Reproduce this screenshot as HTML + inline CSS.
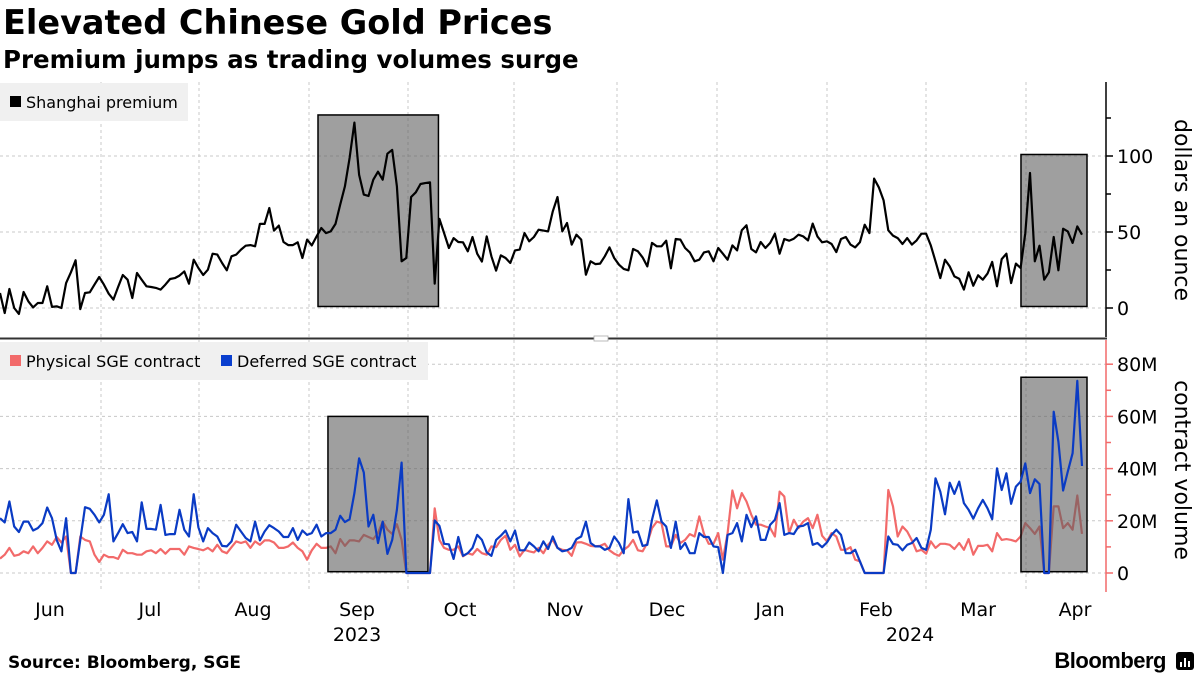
<!DOCTYPE html>
<html><head><meta charset="utf-8"><style>
body{margin:0;background:#fff;width:1200px;height:675px;overflow:hidden;font-family:"Liberation Sans",sans-serif}
svg text{font-family:"DejaVu Sans","Liberation Sans",sans-serif}
</style></head><body>
<svg id="c" width="1200" height="675">
<text x="3" y="34" font-size="33.5" font-weight="bold">Elevated Chinese Gold Prices</text>
<text x="3" y="68" font-size="24.5" font-weight="bold">Premium jumps as trading volumes surge</text>
<g id="grid"></g>
<g id="marks"></g>
<rect x="0" y="83" width="188" height="38" fill="#f0f0f0"/>
<rect x="10" y="96" width="11" height="11" fill="#000"/>
<text x="26" y="108" font-size="16">Shanghai premium</text>
<rect x="0" y="342" width="428" height="38" fill="#f0f0f0"/>
<rect x="10" y="355" width="11" height="11" fill="#f26a6a"/>
<text x="26" y="367" font-size="16">Physical SGE contract</text>
<rect x="221" y="355" width="11" height="11" fill="#0a3fcf"/>
<text x="237" y="367" font-size="16">Deferred SGE contract</text>
<line x1="0" y1="338.5" x2="1107" y2="338.5" stroke="#333" stroke-width="2"/>
<rect x="594" y="336" width="14" height="5" fill="#fff" stroke="#aaa" stroke-width="0.8"/>
<text transform="translate(1175,210) rotate(90)" text-anchor="middle" font-size="22">dollars an ounce</text>
<text transform="translate(1175,470) rotate(90)" text-anchor="middle" font-size="22">contract volume</text>
<text x="8" y="668" font-size="17" font-weight="bold">Source: Bloomberg, SGE</text>
<text x="1166" y="668" text-anchor="end" font-size="22" font-weight="bold" style="font-family:'Liberation Sans',sans-serif;letter-spacing:-0.5px">Bloomberg</text>
<rect x="1176" y="652" width="18" height="18" rx="3" fill="#000"/>
<rect x="1180" y="662" width="2" height="5" fill="#fff"/><rect x="1184" y="658" width="2" height="9" fill="#fff"/><rect x="1188" y="661" width="2" height="6" fill="#fff"/>
</svg>
<script>
const premium=[9.9,-3.3,12.5,0,-3.9,10.5,4.4,0.4,3.3,3.3,14.3,0.7,1.1,0,16.4,23.5,31.4,-0.7,9.9,10.3,15.4,20.4,15.4,9.4,5.5,13.8,21.7,18.6,6.6,23,18.6,14.3,13.8,13.2,12.1,15.4,19.1,19.7,21.3,24.1,16,31.8,26.3,21.7,25.2,35.7,35.1,29.6,24.8,34,35.1,38.4,41,41.4,40.6,55.3,55.3,65.8,50.9,54.2,43.4,41.4,41.4,43.2,32.9,45,41.2,47.1,52.6,49.3,50.4,55.3,68,80,98.7,122,87.7,74.6,73.7,84.4,89.7,84.4,101.5,104,80,30.7,32.9,73,76.1,81.6,82.2,82.7,16,58.6,49.3,39.5,46,43.4,43.2,37.3,46.7,35.7,30.5,47.1,34,24.6,34.6,32.9,29.6,37.9,38.4,49.3,43.9,46.7,51.5,50.9,50.4,63.6,73,50.4,55.9,41.7,48.2,45,21.9,30.7,28.9,
29.2,34,39.9,32.9,28.5,25.7,24.8,38.8,37.3,33.3,27.4,42.8,40.6,40.6,44.3,26.1,45.4,45,39.5,36.6,30.7,31.8,36.6,37.3,30.7,39.5,35.7,31.8,41.2,37.9,51.1,54.4,38.8,36.6,43.4,39.5,42.8,48.9,35.7,45.4,44.3,45.6,48.2,47.1,44.5,55.5,47.1,43.2,43.9,42.1,36.8,45.4,46.7,41.7,39.9,43.2,54.8,49.3,85.1,79.4,70.8,51.1,47.6,46,42.1,46,41.7,44.5,48.9,48.9,41.2,30.7,19.7,31.8,27.4,20.8,19.3,12.1,23.5,14.7,21.5,18.6,22.6,30.3,14.3,32.2,35.7,16.4,29.2,26.3,49.3,88.8,30.7,41,18.6,23.5,46.7,24.8,52.2,50.4,42.8,53.7,48.2];
const deferred=[21,19.4,27.4,17.8,15.7,19.7,19.7,16.3,17.2,19.1,25.1,21,12.7,8.3,21,0,0,12.7,25.2,24.6,22.3,19.4,22.3,30.2,12.1,15.3,18.7,15.3,15.7,12.1,27.1,16.9,16.9,16.6,26.1,14.6,14.9,14.9,24.2,16.6,14,30.2,17.5,12.1,17.2,15.3,14,10.4,10.2,12.1,18.5,15.9,13.4,12.1,19.7,12.5,15.9,18.3,17.2,15.9,13.8,13.8,17.2,12.7,16.3,14.6,15.3,18.5,14,15.3,15.3,16.6,21.9,19.5,20.6,30.6,43.9,38.5,17.8,22.3,11.5,19.7,7.3,12.7,24.2,42.3,0,0,0,0,0,0,20.1,18.1,11.2,11,5.4,13.8,6.6,7.6,9.6,14.6,12.7,7.9,6.6,12.7,14.3,16.3,12.1,16.3,8.7,8.7,11.7,10.2,8.3,12.1,9.2,14,9.6,8.3,8.7,9.6,13,14,19.7,11.5,10.2,
10.2,8.9,9.6,14,11.5,7.6,28.3,15.5,15.9,10.4,10.8,20.4,27.8,19.7,17.8,9.6,19.7,9.2,11.5,7.6,7.6,15.3,13.8,13.8,10.2,9.9,0,14.6,15.3,19.1,12.1,22.3,17.6,21.7,12.7,12.7,18.5,20.4,26.8,14.6,15.3,14.9,17.8,18.1,19.1,10.8,11.5,9.9,11.7,14.6,16.6,14.6,7.6,7.6,8.9,4.5,0,0,0,0,0,14,11.1,10.8,8.7,10.8,11.5,13.4,9.6,8.9,16.6,36.3,31.2,22.5,34.6,30.3,35,26.8,24.2,20.8,24.8,28,24.8,20.6,40.1,31.8,38.2,26.5,33.1,35,42,30.6,35.9,34.1,0,0,61.8,50.3,31.6,38.9,45.9,73.6,41];
const physical=[5.5,7,9.6,6.6,7,8.3,7.6,10.2,7.6,9.6,12.1,10.8,13.8,11.7,14,0,0,14,12.7,12.1,7,4.2,7,6.1,6.1,5.4,8.9,7.6,7.6,7,7,8.3,8.7,7.6,9.2,7.4,9.2,9.2,9.2,7,10.2,9.6,9.2,8.7,9.6,8.3,10.8,8.3,7.6,9.9,12.1,11.5,12.1,9.6,12.1,10.8,12.5,12.5,11.7,9.6,9.6,10.2,11.7,9.6,8.3,5.1,8.7,11.2,9.6,9.6,10.2,7.6,13,10.4,12.5,12.5,12.1,14.6,13.8,13,15.3,19.7,16.6,15,18.7,12.7,0,0,0,0,0,0,24.8,12.7,9.6,8.9,8.9,10.2,6.4,7.6,7,9.2,7.6,7,10.2,9.9,12.7,14.3,8.9,10.8,6.4,8.9,8.3,7.9,9.6,7.6,10.8,12.7,9.6,8.9,8.7,6.6,11.7,11.8,11.2,10.4,10.2,
10.4,11.2,8.7,7.4,6.6,8.9,10.2,12.7,8.7,8.3,11.5,17.2,19.7,19.1,10.2,10.2,14.6,11.5,12.7,14.9,14,21.7,15,11.2,11.2,15.3,5.1,15.3,31.6,24.8,30.6,27.4,22.3,18.5,18.5,17.8,17.2,14,31.2,29.3,15.3,20.4,17.2,19.7,21,17.2,22.3,14.3,12.1,15.3,14,8.9,8.9,9.9,5.1,4.5,0,0,0,0,0,31.8,25.5,14,17.8,15.9,12.5,8.3,8.9,7.4,12.1,9.6,11.2,11.2,10.8,9.2,11.5,8.9,13,7,10.4,10.4,10.8,8.3,15.3,12.7,13,12.7,12.1,14,19.1,17.2,15,17.8,0,0,25.5,25.5,17.2,19.1,16.6,29.7,15];
const monthLabels=["Jun","Jul","Aug","Sep","Oct","Nov","Dec","Jan","Feb","Mar","Apr"];
const monthLabelX=[50,150,253,357,460,565,667,770,876,978,1075];
const monthGridX=[101,199,309,408,514,617,717,827,926,1026];
const yearLabels=["2023","2024"];
const topTicks=[0,50,100];
const botTicks=[0,20,40,60,80];
// highlight windows as fraction of the time span: [start, end, top value, bottom value]
const highlightTop=[[0.2976,0.4006,127,1],[0.9473,1,101,1]];
const highlightBot=[[0.3068,0.3909,60,0.5],[0.9473,1,75,0.5]];

const NS="http://www.w3.org/2000/svg";
const X0=0,X1=1082;
const yTop=v=>308-v*1.52;
const yBot=v=>573-v*2.61;
const xIdx=(i,n)=>X0+(X1-X0)*i/(n-1);
const xFrac=f=>X0+(X1-X0)*f;
const grid=document.getElementById('grid'),marks=document.getElementById('marks');
function mk(tag,attrs,parent){const e=document.createElementNS(NS,tag);for(const k in attrs)e.setAttribute(k,attrs[k]);parent.appendChild(e);return e;}

monthGridX.forEach(x=>{
  const l=mk('line',{x1:x,x2:x,y1:82,y2:590,stroke:'#c8c8c8','stroke-dasharray':'3,3'},grid);
  
  
});
topTicks.forEach(v=>{
  const y=yTop(v);
  const l=mk('line',{x1:0,x2:1106,y1:y,y2:y,stroke:'#c8c8c8','stroke-dasharray':'3,3'},grid);
  
  
  const t=mk('text',{x:1117,y:y+7,'font-size':19},grid);t.textContent=v;
  
  
});
[0,25,50,75,100,125].forEach(v=>{const y=yTop(v);mk('line',{x1:1106,x2:v%50?1111:1113,y1:y,y2:y,stroke:'#000','stroke-width':1.5},grid);});
mk('line',{x1:1106,x2:1106,y1:82,y2:337,stroke:'#000','stroke-width':1.5},grid);
botTicks.forEach(v=>{
  const y=yBot(v);
  const l=mk('line',{x1:0,x2:1106,y1:y,y2:y,stroke:'#c8c8c8','stroke-dasharray':'3,3'},grid);
  
  
  const t=mk('text',{x:1117,y:y+7,'font-size':19},grid);t.textContent=v===0?'0':v+'M';
  
  
});
for(let v=0;v<=80;v+=10){const y=yBot(v);mk('line',{x1:1106,x2:v%20?1111:1113,y1:y,y2:y,stroke:'#f26a6a','stroke-width':1.5},grid);}
mk('line',{x1:1106,x2:1106,y1:340,y2:592,stroke:'#f26a6a','stroke-width':1.5},grid);
monthLabels.forEach((m,i)=>{
  const t=mk('text',{x:monthLabelX[i],y:616,'font-size':19,'text-anchor':'middle'},grid);t.textContent=m;
  
  
});
[[357,yearLabels[0]],[910,yearLabels[1]]].forEach(([x,s])=>{
  const t=mk('text',{x:x,y:641,'font-size':19,'text-anchor':'middle'},grid);t.textContent=s;
  
  
});
function pts(arr,yf){return arr.map((v,i)=>xIdx(i,arr.length).toFixed(1)+','+yf(v).toFixed(1)).join(' ');}
function box(h,yf,name){
  const x1=xFrac(h[0])-4,x2=xFrac(h[1])+5;
  const r=mk('rect',{x:x1,y:yf(h[2]),width:x2-x1,height:yf(h[3])-yf(h[2]),fill:'rgba(95,95,95,0.6)',stroke:'#000','stroke-width':1.5},marks);
  
  
}
highlightTop.forEach(h=>box(h,yTop,'top-highlight-box'));
const p=mk('polyline',{points:pts(premium,yTop),fill:'none',stroke:'#000','stroke-width':2.2,'stroke-linejoin':'round'},marks);


const r=mk('polyline',{points:pts(physical,yBot),fill:'none',stroke:'#f26a6a','stroke-width':2.2,'stroke-linejoin':'round'},marks);


highlightBot.forEach(h=>box(h,yBot,'bottom-highlight-box'));
const b=mk('polyline',{points:pts(deferred,yBot),fill:'none',stroke:'#0a3bc4','stroke-width':2.2,'stroke-linejoin':'round'},marks);


</script>
</body></html>
